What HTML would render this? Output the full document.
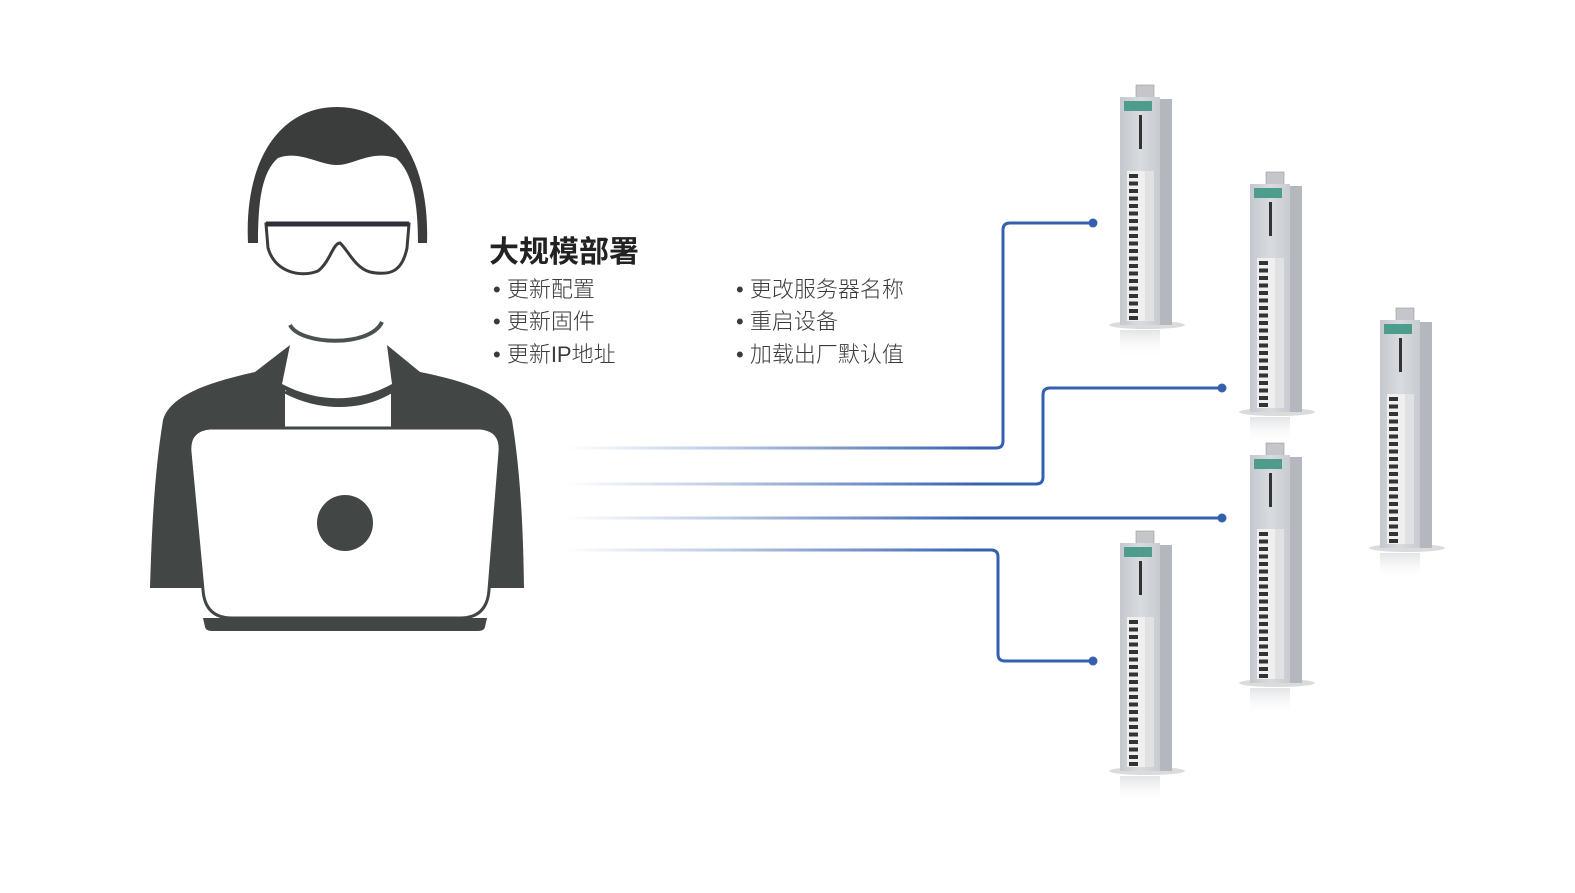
<!DOCTYPE html>
<html><head><meta charset="utf-8"><style>
html,body{margin:0;padding:0;background:#fff;}
body{width:1575px;height:893px;position:relative;overflow:hidden;font-family:"Liberation Sans","Noto Sans CJK SC",sans-serif;}
.t{position:absolute;color:#3a3a3a;font-size:22px;line-height:32px;white-space:nowrap;font-weight:300;}
.h{position:absolute;left:489px;top:227px;font-size:30px;font-weight:bold;color:#222;}
</style></head><body>
<svg width="1575" height="893" style="position:absolute;left:0;top:0">
<defs>
<linearGradient id="ln" x1="565" y1="0" x2="980" y2="0" gradientUnits="userSpaceOnUse">
<stop offset="0" stop-color="#3560b0" stop-opacity="0"/><stop offset="0.4" stop-color="#3560b0" stop-opacity="0.35"/><stop offset="1" stop-color="#3560b0"/></linearGradient>
<linearGradient id="fr" x1="0" y1="0" x2="1" y2="0"><stop offset="0" stop-color="#c4c8ce"/><stop offset="0.5" stop-color="#d8dbdf"/><stop offset="1" stop-color="#c8cbd0"/></linearGradient>
<linearGradient id="rf" x1="0" y1="0" x2="0" y2="1"><stop offset="0" stop-color="#cfd2d6" stop-opacity="0.6"/><stop offset="1" stop-color="#fff" stop-opacity="0"/></linearGradient>
<g id="dev">
<ellipse cx="30" cy="240" rx="38" ry="4" fill="#888" opacity="0.3"/>
<rect x="3" y="245" width="40" height="28" fill="url(#rf)"/>
<rect x="19" y="0" width="18" height="14" fill="#c4c6ca" stroke="#999" stroke-width="0.6"/>
<rect x="43" y="14" width="12" height="226" fill="#b4b8be"/>
<rect x="3" y="12" width="40" height="228" fill="url(#fr)"/>
<rect x="7" y="16" width="28" height="10" fill="#4e9c8b"/>
<rect x="22" y="30" width="3" height="34" fill="#333"/>
<rect x="10" y="86" width="27" height="150" fill="#efefef"/>
<rect x="28" y="86" width="9" height="150" fill="#e0e1e3"/>
<g fill="#333">
<rect x="12" y="89" width="9" height="4"/><rect x="12" y="96.5" width="9" height="4"/><rect x="12" y="104" width="9" height="4"/><rect x="12" y="111.5" width="9" height="4"/><rect x="12" y="119" width="9" height="4"/><rect x="12" y="126.5" width="9" height="4"/><rect x="12" y="134" width="9" height="4"/><rect x="12" y="141.5" width="9" height="4"/><rect x="12" y="149" width="9" height="4"/><rect x="12" y="156.5" width="9" height="4"/><rect x="12" y="164" width="9" height="4"/><rect x="12" y="171.5" width="9" height="4"/><rect x="12" y="179" width="9" height="4"/><rect x="12" y="186.5" width="9" height="4"/><rect x="12" y="194" width="9" height="4"/><rect x="12" y="201.5" width="9" height="4"/><rect x="12" y="209" width="9" height="4"/><rect x="12" y="216.5" width="9" height="4"/><rect x="12" y="224" width="9" height="4"/><rect x="12" y="231" width="9" height="4"/>
</g>
</g>
</defs>
<!-- person -->
<path d="M248,243 C244,160 280,107 337,107 C394,107 430,160 427,243 L418,243 C418,200 412,172 396,158 C370,150 355,165 337,165 C318,165 300,150 278,158 C262,172 258,200 258,243 Z" fill="#3b3c3c"/>
<path d="M266,224 L409,224 L407,248 C402,272 390,276 370,272 C355,268 348,250 340,243 C333,243 330,262 318,271 C300,278 275,272 268,248 Z" fill="none" stroke="#3b3c3c" stroke-width="3"/>
<path d="M266,224 L409,224" stroke="#2e2f3a" stroke-width="5"/>
<path d="M290,325 C300,345 370,348 382,322" fill="none" stroke="#4a5250" stroke-width="4"/>
<path d="M290,345 L282,384 C320,404 360,402 392,384 L387,345 L420,372 C470,382 505,395 512,420 C520,470 523,520 524,588 L150,588 C152,520 155,470 163,420 C170,395 210,382 255,372 Z" fill="#424644"/>
<path d="M285,390 C320,412 360,410 391,392 L391,428 L285,428 Z" fill="#fff"/>
<path d="M285,392 C320,410 360,410 391,392" fill="none" stroke="#424644" stroke-width="3"/>
<path d="M210,428 L480,428 Q502,430 500,452 L489,590 Q487,618 460,618 L232,618 Q205,618 203,590 L190,452 Q188,430 210,428 Z" fill="#fff" stroke="#424644" stroke-width="3"/>
<path d="M203,618 L487,618 L485,627 Q484,631 478,631 L212,631 Q206,631 205,627 Z" fill="#424644"/>
<circle cx="345" cy="523" r="28" fill="#424644"/>
<!-- lines -->
<g fill="none" stroke-width="3">
<path d="M565,448 L990,448" stroke="url(#ln)"/>
<path d="M989,448 L996,448 Q1003,448 1003,441 L1003,230 Q1003,223 1010,223 L1093,223" stroke="#3560b0"/>
<path d="M565,484 L1030,484" stroke="url(#ln)"/>
<path d="M1029,484 L1036,484 Q1043,484 1043,477 L1043,395 Q1043,388 1050,388 L1222,388" stroke="#3560b0"/>
<path d="M565,518 L985,518" stroke="url(#ln)"/>
<path d="M984,518 L1222,518" stroke="#3560b0"/>
<path d="M565,550 L985,550" stroke="url(#ln)"/>
<path d="M984,550 L991,550 Q998,550 998,557 L998,654 Q998,661 1005,661 L1093,661" stroke="#3560b0"/>
</g>
<g fill="#3560b0"><circle cx="1093" cy="223" r="4.5"/><circle cx="1222" cy="388" r="4.5"/><circle cx="1222" cy="518" r="4.5"/><circle cx="1093" cy="661" r="4.5"/></g>
<use href="#dev" x="1117" y="85"/>
<use href="#dev" x="1247" y="172"/>
<use href="#dev" x="1377" y="308"/>
<use href="#dev" x="1247" y="443"/>
<use href="#dev" x="1117" y="531"/>
</svg>
<div class="h">大规模部署</div>
<div class="t" style="left:493px;top:274px">• 更新配置</div>
<div class="t" style="left:493px;top:306px">• 更新固件</div>
<div class="t" style="left:493px;top:339px">• 更新IP地址</div>
<div class="t" style="left:736px;top:274px">• 更改服务器名称</div>
<div class="t" style="left:736px;top:306px">• 重启设备</div>
<div class="t" style="left:736px;top:339px">• 加载出厂默认值</div>
</body></html>
